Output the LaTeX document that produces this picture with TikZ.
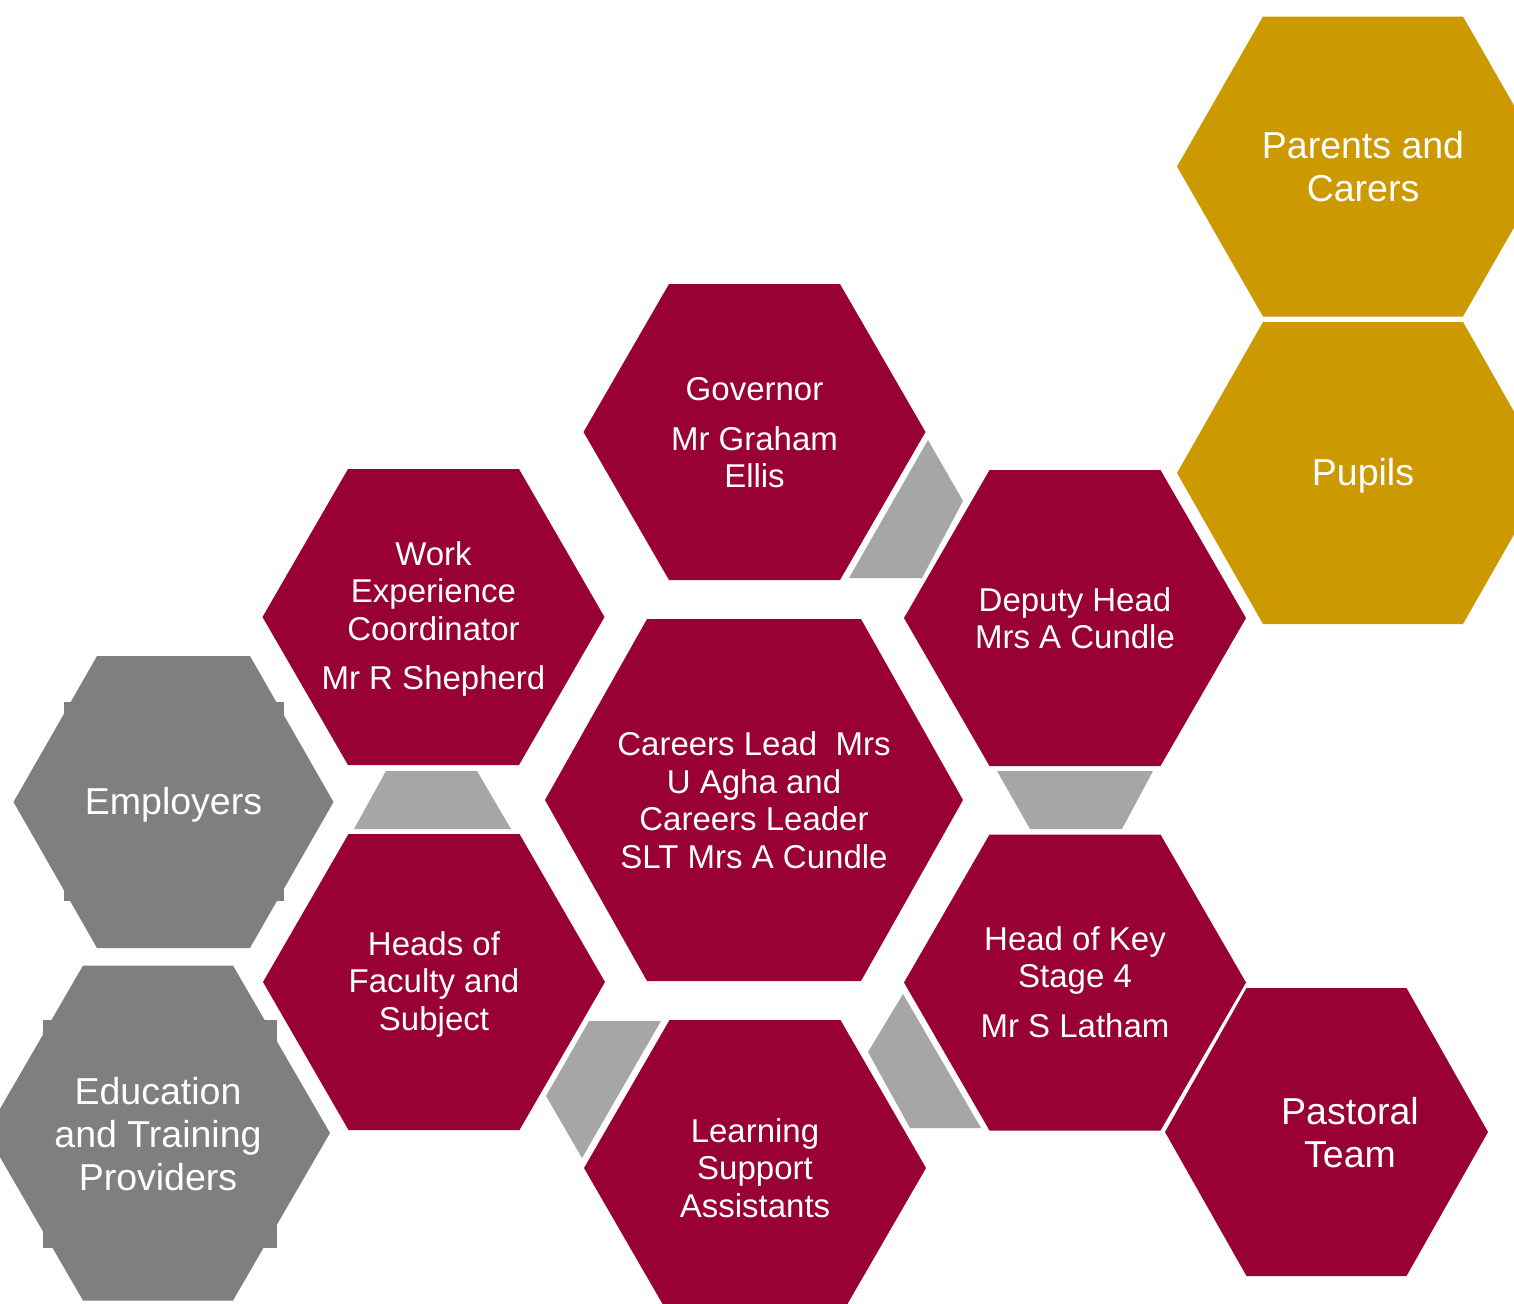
\documentclass[tikz,border=0pt]{standalone}
\usepackage{fontspec}
\setmainfont{Liberation Sans}
\definecolor{hexred}{RGB}{153,0,51}
\definecolor{hexgold}{RGB}{204,153,0}
\definecolor{hexgray}{RGB}{127,127,127}
\definecolor{linkgray}{RGB}{166,166,166}
\begin{document}
\begin{tikzpicture}[x=0.5pt,y=-0.5pt,
        redhex/.style={fill=hexred},
        goldhex/.style={fill=hexgold},
        grayhex/.style={fill=hexgray},
        link/.style={fill=linkgray},
        lbl/.style={text=white,align=center,inner sep=0pt,font=\fontsize{16.5}{18.75}\selectfont},
        biglbl/.style={lbl,font=\fontsize{18.75}{21.5}\selectfont}]
        \useasboundingbox (0,0) rectangle (1514,1303);
        \clip (0,0) rectangle (1514,1303);
        \fill[white] (0,0) rectangle (1514,1303);
        % staff hexagons
        \foreach \cx/\cy in {754.5/432, 433.5/617, 1075/618, 434/982, 1075/982.5, 755/1168}
            \fill[redhex,shift={(\cx,\cy)}] (-171,0) -- (-85.5,-148) -- (85.5,-148) -- (171,0) -- (85.5,148) -- (-85.5,148) -- cycle;
        \fill[redhex,shift={(754,800)}] (-209,0) -- (-107,-181) -- (107,-181) -- (209,0) -- (107,181) -- (-107,181) -- cycle;
        \fill[redhex,shift={(1326.5,1132)}] (-161.5,0) -- (-80,-144) -- (80,-144) -- (161.5,0) -- (80,144) -- (-80,144) -- cycle;
        % outside partners
        \fill[grayhex,shift={(173.5,802)}] (-160,0) -- (-76.5,-146) -- (76.5,-146) -- (160,0) -- (76.5,146) -- (-76.5,146) -- cycle;
        \fill[grayhex] (64,702) rectangle (284,901);
        \fill[grayhex,shift={(158,1133)}] (-172,0) -- (-75,-167.5) -- (75,-167.5) -- (172,0) -- (75,167.5) -- (-75,167.5) -- cycle;
        \fill[grayhex] (43,1020) rectangle (277,1248);
        \fill[goldhex,shift={(1363,166.5)}] (-186,0) -- (-100,-150) -- (100,-150) -- (186,0) -- (100,150) -- (-100,150) -- cycle;
        \fill[goldhex,shift={(1363,473)}] (-186,0) -- (-100,-151) -- (100,-151) -- (186,0) -- (100,151) -- (-100,151) -- cycle;
        % grey links
        \fill[link] (928,440) -- (963,501) -- (922,578) -- (849,578) -- cycle;
        \fill[link] (386,771) -- (477,771) -- (511,829) -- (354,829) -- cycle;
        \fill[link] (997,771) -- (1153,771) -- (1122,829) -- (1030,829) -- cycle;
        \fill[link] (589,1021) -- (661,1021) -- (582,1158) -- (546,1096) -- cycle;
        \fill[link] (903,994) -- (868,1052) -- (910,1128) -- (981,1128) -- cycle;
        % labels
        \node[lbl] (governor) at (754.5,433) {Governor\\[6pt]Mr Graham\\Ellis};
        \node[lbl] (workexp) at (433.5,619) {Work\\Experience\\Coordinator\\[6pt]Mr R Shepherd};
        \node[lbl] (careers) at (754,800) {Careers Lead~ Mrs\\U Agha and\\Careers Leader\\SLT Mrs A Cundle};
        \node[lbl] (deputy) at (1075,618) {Deputy Head\\Mrs A Cundle};
        \node[lbl] (keystage) at (1075,982) {Head of Key\\Stage 4\\[6pt]Mr S Latham};
        \node[lbl] (faculty) at (434,984) {Heads of\\Faculty and\\Subject};
        \node[lbl] (learning) at (755,1168) {Learning\\Support\\Assistants};
        \node[biglbl] (pastoral) at (1350,1133) {Pastoral\\Team};
        \node[biglbl] (employers) at (173.5,805) {Employers};
        \node[biglbl] (providers) at (158,1134) {Education\\and Training\\Providers};
        \node[biglbl] (parents) at (1363,167) {Parents and\\Carers};
        \node[biglbl] (pupils) at (1363,476) {Pupils};
    \end{tikzpicture}
\end{document}
